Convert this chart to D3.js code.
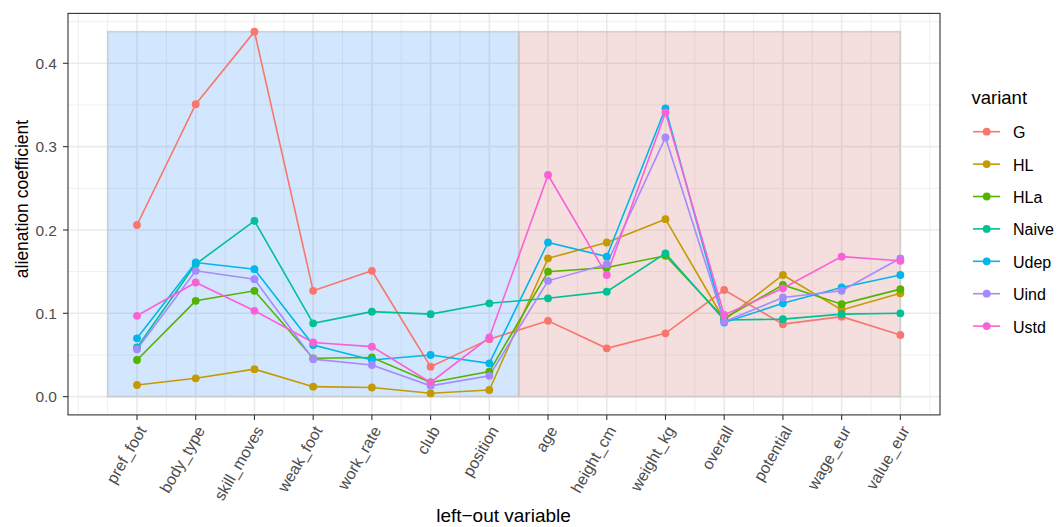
<!DOCTYPE html>
<html><head><meta charset="utf-8">
<script src="https://cdn.jsdelivr.net/npm/d3@7"></script>
<style>body{margin:0;background:#fff;} svg{display:block;font-family:"Liberation Sans",Arial,sans-serif;}</style>
</head><body>
<svg id="chart" width="1057" height="527"></svg>
<script>
const categories = ["pref_foot","body_type","skill_moves","weak_foot","work_rate","club","position","age","height_cm","weight_kg","overall","potential","wage_eur","value_eur"];
const variants = ["G","HL","HLa","Naive","Udep","Uind","Ustd"];
const colors = ["#F8766D","#C49A00","#53B400","#00C094","#00B6EB","#A58AFF","#FB61D7"];
const G     = [0.206,0.351,0.438,0.127,0.151,0.036,0.069,0.091,0.058,0.076,0.128,0.087,0.096,0.074];
const HL    = [0.014,0.022,0.033,0.012,0.011,0.004,0.008,0.166,0.185,0.213,0.092,0.146,0.104,0.124];
const HLa   = [0.044,0.115,0.127,0.046,0.047,0.017,0.030,0.150,0.155,0.169,0.094,0.134,0.111,0.129];
const Naive = [0.059,0.159,0.211,0.088,0.102,0.099,0.112,0.118,0.126,0.172,0.092,0.093,0.099,0.100];
const Udep  = [0.070,0.161,0.153,0.062,0.044,0.050,0.040,0.185,0.168,0.346,0.089,0.112,0.131,0.146];
const Uind  = [0.057,0.151,0.141,0.045,0.038,0.013,0.025,0.139,0.159,0.311,0.090,0.119,0.127,0.166];
const Ustd  = [0.097,0.137,0.103,0.065,0.060,0.017,0.071,0.266,0.146,0.341,0.098,0.130,0.168,0.163];
const seriesValues = [G,HL,HLa,Naive,Udep,Uind,Ustd];
const yTicks = [0.0,0.1,0.2,0.3,0.4];
const yTickLabels = ["0.0","0.1","0.2","0.3","0.4"];
const groupSplit = 7; // first 7 categories are in the blue block

const svg = d3.select("#chart");
const L = 68, R = 940, T = 13.4, B = 414.9;
const n = categories.length;
const maxV = d3.max(seriesValues.flat());
const xlo = 0.5, xhi = n, xpad = (xhi - xlo) * 0.05;
const x = d3.scaleLinear().domain([xlo - xpad, xhi + xpad]).range([L, R]);
const ypad = maxV * 0.05;
const y = d3.scaleLinear().domain([-ypad, maxV + ypad]).range([B, T]);

// grid
const g = svg.append("g");
const minorX = d3.range(0, n + 1, 1).map(d => d + 0.5).concat([0]);
const minorY = [0.05,0.15,0.25,0.35,0.45];
g.selectAll(".mx").data(minorX.filter(d => x(d) >= L && x(d) <= R)).enter().append("line")
  .attr("x1", d => x(d)).attr("x2", d => x(d)).attr("y1", T).attr("y2", B)
  .attr("stroke", "#EBEBEB").attr("stroke-width", 0.8);
g.selectAll(".my").data(minorY.filter(d => y(d) >= T)).enter().append("line")
  .attr("x1", L).attr("x2", R).attr("y1", d => y(d)).attr("y2", d => y(d))
  .attr("stroke", "#EBEBEB").attr("stroke-width", 0.8);
g.selectAll(".Mx").data(d3.range(1, n + 1)).enter().append("line")
  .attr("x1", d => x(d)).attr("x2", d => x(d)).attr("y1", T).attr("y2", B)
  .attr("stroke", "#EBEBEB").attr("stroke-width", 1.6);
g.selectAll(".My").data(yTicks).enter().append("line")
  .attr("x1", L).attr("x2", R).attr("y1", d => y(d)).attr("y2", d => y(d))
  .attr("stroke", "#EBEBEB").attr("stroke-width", 1.6);

// blocks
const blocks = [{x0:0.5, x1:groupSplit + 0.5, fill:"#1E88F5", op:0.2},
                {x0:groupSplit + 0.5, x1:n, fill:"#CD5C5C", op:0.2}];
svg.selectAll(".blk").data(blocks).enter().append("rect")
  .attr("x", d => x(d.x0)).attr("width", d => x(d.x1) - x(d.x0))
  .attr("y", y(maxV)).attr("height", y(0) - y(maxV))
  .attr("fill", d => d.fill).attr("fill-opacity", d => d.op)
  .attr("stroke", "#C8C8C8").attr("stroke-opacity", 0.8).attr("stroke-width", 1.6);

// lines
const line = d3.line().x((d, i) => x(i + 1)).y(d => y(d));
seriesValues.forEach((vals, k) => {
  svg.append("path").datum(vals).attr("d", line).attr("fill", "none")
    .attr("stroke", colors[k]).attr("stroke-width", 1.6);
});
seriesValues.forEach((vals, k) => {
  svg.selectAll(".p" + k).data(vals).enter().append("circle")
    .attr("cx", (d, i) => x(i + 1)).attr("cy", d => y(d)).attr("r", 3.9)
    .attr("fill", colors[k]);
});

// border
svg.append("rect").attr("x", L).attr("y", T).attr("width", R - L).attr("height", B - T)
  .attr("fill", "none").attr("stroke", "#333333").attr("stroke-width", 1.1);

// y axis
svg.selectAll(".yt").data(yTicks).enter().append("line")
  .attr("x1", L - 5).attr("x2", L).attr("y1", d => y(d)).attr("y2", d => y(d))
  .attr("stroke", "#333333").attr("stroke-width", 1.1);
svg.selectAll(".yl").data(yTicks).enter().append("text")
  .attr("x", L - 11).attr("y", d => y(d)).attr("dy", "0.36em").attr("text-anchor", "end")
  .attr("font-size", 15.5).attr("fill", "#4D4D4D").text((d, i) => yTickLabels[i]);
svg.append("text").attr("transform", `translate(28.3,199) rotate(-90)`)
  .attr("text-anchor", "middle").attr("font-size", 17.5).attr("fill", "#000").text("alienation coefficient");

// x axis
svg.selectAll(".xt").data(categories).enter().append("line")
  .attr("x1", (d, i) => x(i + 1)).attr("x2", (d, i) => x(i + 1)).attr("y1", B).attr("y2", B + 5)
  .attr("stroke", "#333333").attr("stroke-width", 1.1);
svg.selectAll(".xl").data(categories).enter().append("text")
  .attr("transform", (d, i) => `translate(${x(i + 1) + 5},${B + 12.5}) rotate(-60)`)
  .attr("text-anchor", "end").attr("dy", "0.35em").attr("font-size", 16).attr("fill", "#4D4D4D").text(d => d);
svg.append("text").attr("x", 503.5).attr("y", 521.5).attr("text-anchor", "middle")
  .attr("font-size", 19).attr("fill", "#000").text("left\u2212out variable");

// legend
const lg = svg.append("g");
lg.append("text").attr("x", 971.5).attr("y", 104).attr("font-size", 18.5).text("variant");
variants.forEach((v, k) => {
  const cy = 131.7 + k * 32.4;
  lg.append("line").attr("x1", 973).attr("x2", 1000).attr("y1", cy).attr("y2", cy)
    .attr("stroke", colors[k]).attr("stroke-width", 1.6);
  lg.append("circle").attr("cx", 986.7).attr("cy", cy).attr("r", 3.9).attr("fill", colors[k]);
  lg.append("text").attr("x", 1013).attr("y", cy).attr("dy", "0.4em").attr("font-size", 16)
    .attr("fill", "#000").text(v);
});
</script>
</body></html>
